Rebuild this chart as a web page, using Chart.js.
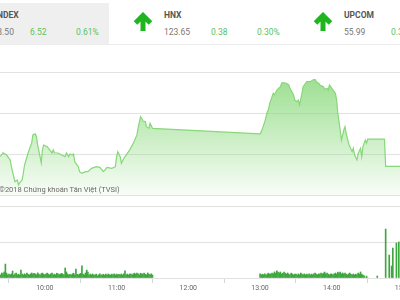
<!DOCTYPE html>
<html>
<head>
<meta charset="utf-8">
<script src="https://cdn.jsdelivr.net/npm/chart.js@4.4.1/dist/chart.umd.min.js"></script>
<style>
  html, body { margin:0; padding:0; }
  body { width:400px; height:300px; overflow:hidden; position:relative; background:#fff; font-family:Roboto, 'Noto Sans', sans-serif; }
  .hdr { position:absolute; left:0; top:0; width:400px; height:44px; border-bottom:1px solid #ececec; }
  .gbox { position:absolute; left:0; top:3px; width:109px; height:41px; background:#efefef; }
  .blk { position:absolute; top:0; height:44px; white-space:nowrap; }
  .blk div { position:absolute; line-height:1; font-size:8.5px; }
  .nm { top:11px; left:0; font-weight:700; color:#555; }
  .v  { top:28px; left:0; color:#777; }
  .c  { top:28px; left:47px; color:#5cc25c; }
  .p  { top:28px; left:93px; color:#5cc25c; }
  .arr { position:absolute; top:12px; }
  .wm { position:absolute; left:-1px; top:186px; font-size:7.5px; line-height:1; color:#6a6a6a; white-space:nowrap; }
  canvas { position:absolute; left:0; top:0; }
</style>
</head>
<body>
<div class="hdr">
  <div class="gbox"></div>
  <div class="blk" style="left:-17px"><div class="nm">VNINDEX</div><div class="v">1073.50</div><div class="c">6.52</div><div class="p">0.61%</div></div>
  <svg class="arr" style="left:133px" width="20" height="19" viewBox="0 0 20 19"><path d="M2.5 11 L10 3.5 L17.5 11 M10 4 V19" stroke="#1fb51f" stroke-width="5" fill="none"/></svg>
  <div class="blk" style="left:164px"><div class="nm">HNX</div><div class="v">123.65</div><div class="c">0.38</div><div class="p">0.30%</div></div>
  <svg class="arr" style="left:313px" width="20" height="19" viewBox="0 0 20 19"><path d="M2.5 11 L10 3.5 L17.5 11 M10 4 V19" stroke="#1fb51f" stroke-width="5" fill="none"/></svg>
  <div class="blk" style="left:344px"><div class="nm">UPCOM</div><div class="v">55.99</div><div class="c">0.31</div></div>
</div>
<canvas id="priceChart" width="400" height="300"></canvas>
<canvas id="volChart" width="400" height="300"></canvas>
<div class="wm">©2018 Chứng khoán Tân Việt (TVSI)</div>

<script>
// index value through the session (times hh:mm)
const priceTimes = ['9:15','9:23','9:25','9:28','9:31','9:32','9:34','9:35','9:37','9:38','9:39','9:41','9:42','9:43','9:46','9:49','9:50','9:52','9:53','9:54','9:56','9:57','9:58','9:59',
  '10:02','10:04','10:06','10:07','10:08','10:11','10:14','10:17','10:18','10:20','10:21','10:23','10:24','10:25','10:27','10:28','10:29','10:31','10:34','10:36','10:39','10:43','10:46','10:49','10:52','10:56','10:59',
  '11:00','11:01','11:03','11:04','11:06','11:08','11:11','11:14','11:17','11:18','11:20','11:21','11:22','11:24','11:25','11:27','11:28','11:30',
  '13:00','13:01','13:04','13:06','13:07','13:08','13:10','13:11','13:12','13:14','13:17','13:18','13:19','13:22','13:24','13:25','13:28','13:29','13:31','13:32','13:33','13:35','13:36','13:38','13:39','13:42','13:44','13:46','13:47','13:49','13:50','13:53','13:54','13:56','13:57','13:58',
  '14:00','14:01','14:03','14:04','14:05','14:07','14:08','14:10','14:11','14:12','14:14','14:15','14:17','14:18','14:19','14:21','14:22','14:24','14:25','14:26','14:28','14:29','14:30','14:44','14:45','15:00'];
const priceValues = [1073.80,1073.90,1074.06,1073.95,1073.71,1073.38,1072.89,1072.65,1072.73,1072.49,1072.59,1072.73,1073.07,1073.46,1074.05,1074.54,1074.93,1074.98,1074.84,1074.44,1073.87,1073.56,1074.20,1074.44,
  1074.36,1074.20,1074.05,1074.20,1074.06,1074.05,1073.95,1073.87,1074.05,1073.87,1074.00,1073.95,1074.00,1073.62,1073.46,1073.38,1073.14,1073.06,1073.14,1073.14,1073.30,1073.38,1073.35,1073.14,1073.35,1073.30,1073.38,
  1073.87,1074.11,1073.87,1073.55,1073.79,1073.95,1074.20,1074.52,1074.93,1075.27,1075.82,1075.74,1075.61,1075.58,1075.33,1075.25,1075.50,1075.25,
  1074.98,1075.09,1075.58,1076.06,1076.15,1076.47,1076.80,1076.96,1076.88,1077.12,1077.28,1077.45,1077.48,1077.45,1077.37,1077.20,1076.88,1076.63,1076.55,1076.63,1076.39,1076.96,1077.28,1077.45,1077.53,1077.53,1077.61,1077.64,1077.53,1077.45,1077.37,1077.28,1077.16,1077.20,1077.12,1077.37,
  1077.20,1077.12,1076.96,1076.63,1075.99,1075.17,1074.68,1075.17,1075.33,1075.01,1074.52,1074.36,1074.11,1074.28,1073.95,1073.71,1074.03,1074.28,1073.87,1074.36,1074.68,1074.52,1074.73,1074.73,1073.40,1073.40];
const priceTicks = [1072, 1074, 1076, 1078];

// volume per minute (thousand shares)
const volMorningStart = '9:22';
const volMorning = [440,330,560,450,670,1550,540,340,430,350,
  450,780,320,460,550,350,430,330,890,440,
  340,470,360,540,420,330,450,560,430,520,
  460,350,570,440,320,480,550,420,360,450,
  540,430,340,470,560,330,440,350,530,460,
  360,440,520,430,350,1110,680,450,340,420,
  330,460,540,350,990,420,360,440,510,1340,
  430,350,560,880,650,330,440,340,450,320,
  340,430,240,360,450,330,350,420,310,440,
  320,450,360,340,430,350,460,330,440,360,
  420,340,450,330,460,790,350,440,330,450,
  430,360,470,540,420,560,450,340,530,460,
  440,550,420,350,560,430,340,460,330];
const volAfternoonStart = '13:00';
const volAfternoon = [450,340,430,360,460,330,440,540,420,450,
  550,460,680,540,790,660,560,670,450,530,
  650,540,440,560,430,350,540,450,340,430,
  440,330,450,350,550,430,360,460,340,440,
  350,450,330,440,360,470,540,420,350,460,
  430,560,440,540,660,450,550,430,340,450,
  440,350,460,550,430,650,540,660,450,560,
  450,540,430,340,460,550,420,350,440,330,
  430,350,560,440,670,420,330,230,0,210,
  0];
const volCloseTimes = ['14:38','14:45','14:48','14:50','14:51','14:54','14:56'];
const volCloseValues = [220,5440,2550,1330,3330,3890,4000];
const volTicks = [0, 4000, 8000];

const hourTicks = ['10:00','11:00','12:00','13:00','14:00','15:00'];

const toMin = s => { const [h, m] = s.split(':').map(Number); return h * 60 + m; };
const fmt = v => Math.floor(v / 60) + ':' + String(v % 60).padStart(2, '0');

const X_MIN = 562.5, X_MAX = 897;
const FONT = 'Roboto';

const pricePts = priceTimes.map((t, i) => ({ x: toMin(t), y: priceValues[i] }));
const volPts = [];
volMorning.forEach((v, i) => volPts.push({ x: toMin(volMorningStart) + i, y: v }));
volAfternoon.forEach((v, i) => volPts.push({ x: toMin(volAfternoonStart) + i, y: v }));
volCloseTimes.forEach((t, i) => volPts.push({ x: toMin(t), y: volCloseValues[i] }));

const noWidth = s => { s.width = 0; };

new Chart(document.getElementById('priceChart'), {
  type: 'line',
  data: {
    datasets: [{
      data: pricePts,
      borderColor: '#86d878',
      borderWidth: 1.2,
      pointRadius: 0,
      tension: 0,
      fill: 'start',
      backgroundColor: ctx => {
        const { ctx: c, chartArea } = ctx.chart;
        if (!chartArea) return 'rgba(134,216,120,0.4)';
        const g = c.createLinearGradient(0, chartArea.top, 0, chartArea.bottom);
        g.addColorStop(0, 'rgba(134,216,120,0.85)');
        g.addColorStop(1, 'rgba(134,216,120,0.06)');
        return g;
      }
    }]
  },
  options: {
    responsive: false, animation: false,
    layout: { padding: { top: 72, bottom: 105, left: 0, right: 0 } },
    plugins: { legend: { display: false }, tooltip: { enabled: false } },
    scales: {
      x: { type: 'linear', min: X_MIN, max: X_MAX, display: false },
      y: {
        min: priceTicks[0], max: priceTicks[priceTicks.length - 1],
        afterBuildTicks: s => { s.ticks = priceTicks.map(v => ({ value: v })); },
        afterFit: noWidth,
        ticks: { display: false },
        border: { display: false },
        grid: { color: '#e2e2e2', lineWidth: 1, drawTicks: false }
      }
    }
  }
});

new Chart(document.getElementById('volChart'), {
  type: 'bar',
  data: {
    datasets: [{
      data: volPts,
      backgroundColor: '#3ea63e',
      barThickness: 1
    }]
  },
  options: {
    responsive: false, animation: false,
    layout: { padding: { top: 206, bottom: 0, left: 0, right: 0 } },
    plugins: { legend: { display: false }, tooltip: { enabled: false } },
    scales: {
      x: {
        type: 'linear', min: X_MIN, max: X_MAX, offset: false,
        afterBuildTicks: s => { s.ticks = hourTicks.map(t => ({ value: toMin(t) })); },
        afterFit: s => { s.height = 22; s.paddingLeft = 0; s.paddingRight = 0; },
        ticks: { autoSkip: false, maxRotation: 0, padding: 1, color: '#666', font: { family: FONT, size: 7 }, callback: v => fmt(v) },
        border: { display: false },
        grid: { drawOnChartArea: false, drawTicks: true, tickLength: 5, color: '#cfd8e0' }
      },
      y: {
        min: volTicks[0], max: volTicks[volTicks.length - 1],
        afterBuildTicks: s => { s.ticks = volTicks.map(v => ({ value: v })); },
        afterFit: noWidth,
        ticks: { display: false },
        border: { display: false },
        grid: { color: '#e2e2e2', lineWidth: 1, drawTicks: false }
      }
    }
  }
});
</script>
</body>
</html>
